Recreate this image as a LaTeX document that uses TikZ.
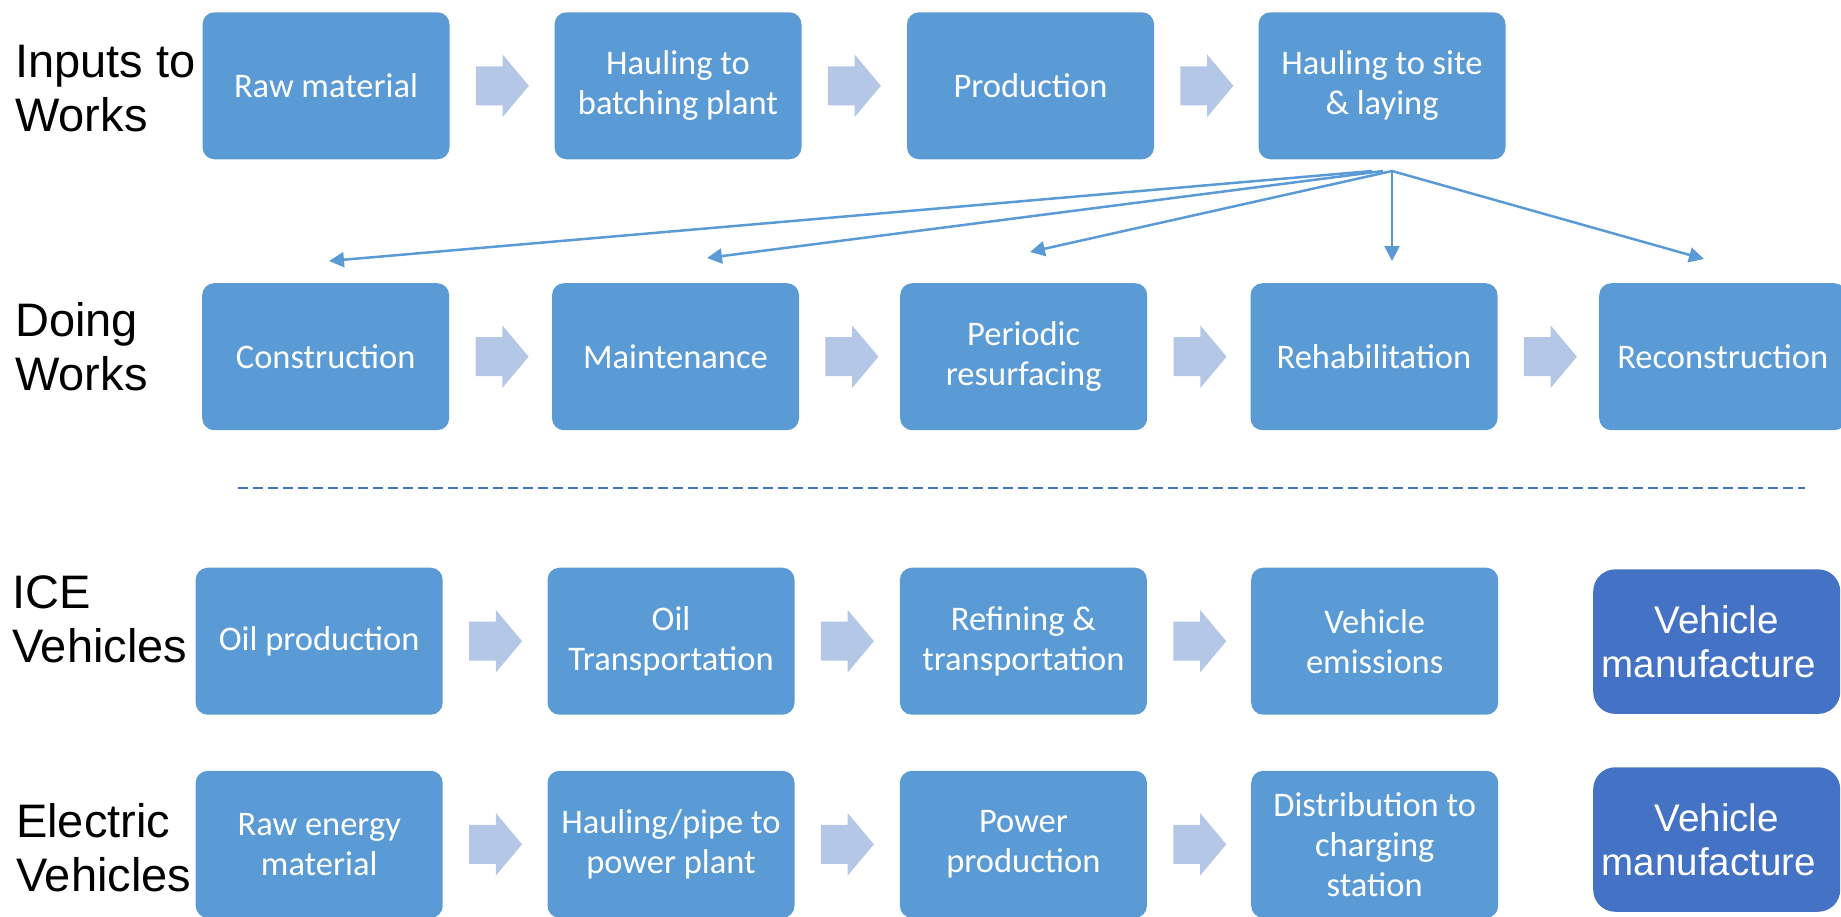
\documentclass[tikz,border=0pt]{standalone}
\usepackage{fontspec}
\newfontfamily\boxfont{Carlito}
\newfontfamily\labfont{Liberation Sans}
\usetikzlibrary{arrows.meta,shapes.arrows,calc}
\definecolor{boxblue}{HTML}{5B9BD5}
\definecolor{darkblue}{HTML}{4472C4}
\definecolor{arrowblue}{HTML}{B4C7E7}
\begin{document}
\begin{tikzpicture}[x=1pt,y=-1pt,
  stage/.style={rectangle, rounded corners=12pt, fill=boxblue, minimum width=247pt, minimum height=147pt, inner sep=0pt, text=white, align=center, font=\boxfont\fontsize{34.5}{40}\selectfont},
  vm/.style={stage, fill=darkblue, rounded corners=22pt, minimum height=144.5pt, font=\labfont\fontsize{38.5}{44}\selectfont},
  rowlabel/.style={anchor=west, inner sep=0pt, align=left, font=\labfont\fontsize{47}{54}\selectfont},
  flow/.style={single arrow, fill=arrowblue, draw=none, anchor=tail, minimum height=53pt, inner xsep=0pt, inner ysep=19.3pt, single arrow head extend=11.7pt, single arrow tip angle=100},
  link/.style={draw=boxblue, line width=2.5pt, -{Triangle[length=15pt,width=15pt]}}]
\useasboundingbox (0,0) rectangle (1841,916);
\clip (0,0) rectangle (1841,916);

% row labels
\node[rowlabel] (l1) at (15,89) {Inputs to\\Works};
\node[rowlabel] (l2) at (15,347) {Doing\\Works};
\node[rowlabel] (l3) at (12,619) {ICE\\Vehicles};
\node[rowlabel] (l4) at (16,848) {Electric\\Vehicles};

% row 1
\node[stage] (r1a) at (326,85.8) {Raw material};
\node[stage] (r1b) at (678,85.8) {Hauling to\\batching plant};
\node[stage] (r1c) at (1030.5,85.8) {Production};
\node[stage] (r1d) at (1382,85.8) {Hauling to site\\\& laying};
% row 2
\node[stage] (r2a) at (325.7,356.7) {Construction};
\node[stage] (r2b) at (675.5,356.7) {Maintenance};
\node[stage] (r2c) at (1023.7,356.7) {Periodic\\resurfacing};
\node[stage] (r2d) at (1374,356.7) {Rehabilitation};
\node[stage] (r2e) at (1722.7,356.7) {Reconstruction};
% row 3
\node[stage] (r3a) at (319.2,641.2) {Oil production};
\node[stage] (r3b) at (671,641.2) {Oil\\Transportation};
\node[stage] (r3c) at (1023.4,641.2) {Refining \&\\transportation};
\node[stage] (r3d) at (1374.7,641.2) {Vehicle\\emissions};
\node[vm] (r3e) at (1716.7,641.6) {Vehicle\\manufacture\hspace*{16pt}};
% row 4
\node[stage] (r4a) at (319.2,844.3) {Raw energy\\material};
\node[stage] (r4b) at (671,844.3) {Hauling/pipe to\\power plant};
\node[stage] (r4c) at (1023.4,844.3) {Power\\production};
\node[stage] (r4d) at (1374.7,844.3) {Distribution to\\charging\\station};
\node[vm] (r4e) at (1716.7,839.5) {Vehicle\\manufacture\hspace*{16pt}};

% block arrows
\foreach \r/\a/\b in {1/a/b,1/b/c,1/c/d,2/a/b,2/b/c,2/c/d,2/d/e,3/a/b,3/b/c,3/c/d,4/a/b,4/b/c,4/c/d}
  \node[flow] (f\r\a) at ($(r\r\a.east)+(26,0)$) {};

% connectors from "Hauling to site & laying"
\coordinate (s1) at (1372,171);
\coordinate (s2) at (1383,171);
\coordinate (s3) at (1392,171);
\coordinate (t1) at (329,261);
\coordinate (t2) at (707,258);
\coordinate (t3) at (1030,252);
\coordinate (t4) at (1392,261);
\coordinate (t5) at (1704,259);
\draw[link] (s1) -- (t1);
\draw[link] (s2) -- (t2);
\draw[link] (s3) -- (t3);
\draw[link] (s3) -- (t4);
\draw[link] (s3) -- (t5);

% separator
\coordinate (d1) at (238,488);
\coordinate (d2) at (1805,488);
\draw[darkblue, line width=2.2pt, dash pattern=on 10pt off 5pt] (d1) -- (d2);
\end{tikzpicture}
\end{document}
